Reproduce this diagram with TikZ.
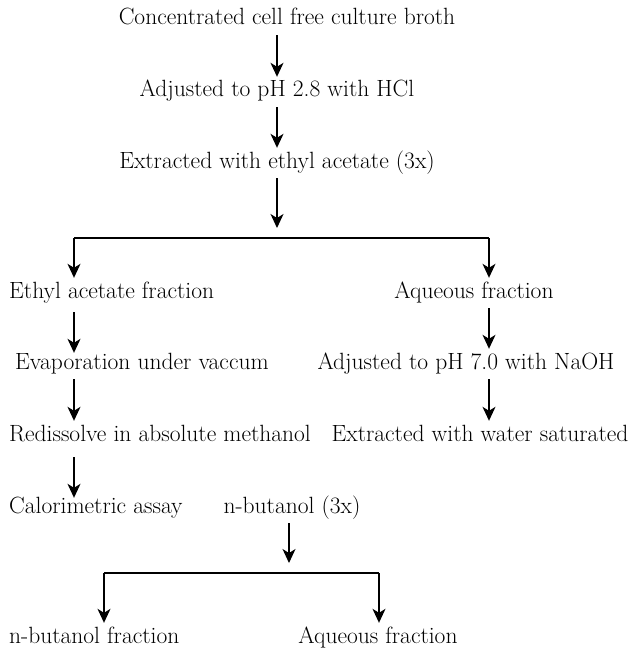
\documentclass[tikz,border=0pt]{standalone}
\usetikzlibrary{arrows.meta}

\tikzset{
  lbl/.style={inner sep=1pt, text height=16pt, text depth=6pt, font=\fontsize{23.5}{28}\selectfont},
  arr/.style={line width=1.2pt, -{Stealth[length=14pt,width=13pt,inset=4pt]}, shorten <=3pt, shorten >=3pt},
  bar/.style={line width=1.5pt}
}

\begin{document}
\begin{tikzpicture}[x=1pt,y=-1pt]

\useasboundingbox (0,0) rectangle (630,650);

\coordinate (P1) at (287,20);
\coordinate (P2) at (277,92);
\coordinate (P3) at (277,163);
\coordinate (P4) at (8,293);
\coordinate (P5) at (474,293);
\coordinate (P6) at (14,364);
\coordinate (P7) at (466,364);
\coordinate (P8) at (8,436);
\coordinate (P9) at (480,436);
\coordinate (P10) at (8,508);
\coordinate (P11) at (292,508);
\coordinate (P12) at (8,638);
\coordinate (P13) at (378,638);

\coordinate (S) at (277,238);
\coordinate (SL) at (74,238);
\coordinate (SR) at (489,238);
\coordinate (T) at (289,573);
\coordinate (TL) at (104,573);
\coordinate (TR) at (379,573);

\node [lbl] (broth) at (P1) {Concentrated cell free culture broth};
\node [lbl] (acid) at (P2) {Adjusted to pH 2.8 with HCl};
\node [lbl] (extr) at (P3) {Extracted with ethyl acetate (3x)};
\node [lbl, anchor=west] (ethyl) at (P4) {Ethyl acetate fraction};
\node [lbl] (aqA) at (P5) {Aqueous fraction};
\node [lbl, anchor=west] (evap) at (P6) {Evaporation under vaccum};
\node [lbl] (base) at (P7) {Adjusted to pH 7.0 with NaOH};
\node [lbl, anchor=west] (redis) at (P8) {Redissolve in absolute methanol};
\node [lbl] (water) at (P9) {Extracted with water saturated};
\node [lbl, anchor=west] (assay) at (P10) {Calorimetric assay};
\node [lbl] (butan) at (P11) {n-butanol (3x)};
\node [lbl, anchor=west] (butfr) at (P12) {n-butanol fraction};
\node [lbl] (aqB) at (P13) {Aqueous fraction};

\draw [arr] (broth.south -| S) -- (acid.north -| S);
\draw [arr] (acid.south -| S) -- (extr.north -| S);
\draw [arr, shorten >=10pt] (extr.south -| S) -- (S);

\draw [bar] (SL) -- (SR);
\draw [arr, shorten <=0pt] (SL) -- (ethyl.north -| SL);
\draw [arr, shorten <=0pt] (SR) -- (aqA.north -| SR);

\draw [arr, shorten <=7pt, shorten >=-1pt] (ethyl.south -| SL) -- (evap.north -| SL);
\draw [arr] (evap.south -| SL) -- (redis.north -| SL);
\draw [arr, shorten <=9pt, shorten >=-2pt] (redis.south -| SL) -- (assay.north -| SL);

\draw [arr] (aqA.south -| SR) -- (base.north -| SR);
\draw [arr] (base.south -| SR) -- (water.north -| SR);

\draw [arr, shorten >=10pt] (butan.south -| T) -- (T);
\draw [bar] (TL) -- (TR);
\draw [arr, shorten <=0pt] (TL) -- (butfr.north -| TL);
\draw [arr, shorten <=0pt] (TR) -- (aqB.north -| TR);

\end{tikzpicture}
\end{document}
